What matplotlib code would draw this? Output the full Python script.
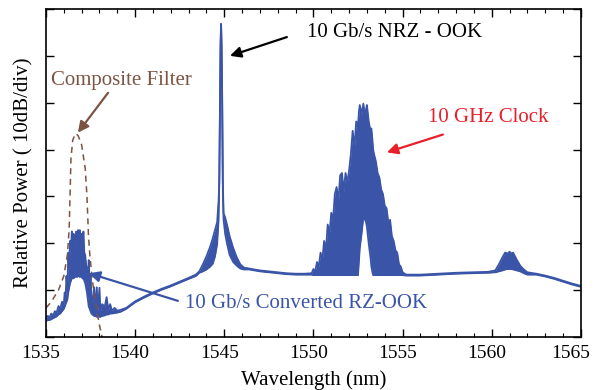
import numpy as np
import matplotlib
matplotlib.use('Agg')
import matplotlib.pyplot as plt
from matplotlib.transforms import ScaledTranslation

plt.rcParams['font.family'] = ['Liberation Serif', 'DejaVu Serif']

# measured spectrum: wavelength (nm), top and bottom of the trace (divisions of 10 dB)
wl = [1535.0, 1535.1, 1535.2, 1535.3, 1535.4, 1535.5, 1535.6, 1535.7, 1535.8, 1535.9,
      1536.0, 1536.05, 1536.1, 1536.15, 1536.2, 1536.25, 1536.3, 1536.35, 1536.4, 1536.45,
      1536.5, 1536.55, 1536.6, 1536.65, 1536.7, 1536.75, 1536.8, 1536.85, 1536.9, 1536.95,
      1537.0, 1537.05, 1537.1, 1537.15, 1537.2, 1537.25, 1537.3, 1537.35, 1537.4, 1537.45,
      1537.5, 1537.55, 1537.6, 1537.7, 1537.75, 1537.85, 1537.9, 1538.0, 1538.05, 1538.15,
      1538.3, 1538.4, 1538.5, 1538.6, 1538.7, 1538.85, 1539.0, 1539.2,
      1539.5, 1540.0, 1540.5, 1541.0, 1541.5, 1542.0, 1542.5, 1543.0, 1543.4,
      1543.6, 1543.8, 1544.0, 1544.2, 1544.35, 1544.48, 1544.6, 1544.68, 1544.72, 1544.74,
      1544.76, 1544.79, 1544.82, 1544.85, 1544.88, 1544.9, 1544.92, 1544.96, 1545.05, 1545.15,
      1545.3, 1545.5, 1545.7, 1545.9, 1546.1, 1546.4,
      1547.0, 1547.5, 1548.0, 1548.5, 1549.0, 1549.5, 1549.9,
      1550.0, 1550.1, 1550.2, 1550.3, 1550.4, 1550.5, 1550.6, 1550.7, 1550.8, 1550.9,
      1551.0, 1551.1, 1551.2, 1551.3, 1551.4, 1551.5, 1551.6, 1551.7, 1551.8, 1551.9,
      1552.0, 1552.1, 1552.2, 1552.3, 1552.4, 1552.5, 1552.55, 1552.6, 1552.7, 1552.8,
      1552.9, 1552.95, 1553.0, 1553.1, 1553.2, 1553.25, 1553.3, 1553.35, 1553.4, 1553.5,
      1553.6, 1553.7, 1553.8, 1553.9, 1554.0, 1554.1, 1554.2, 1554.3, 1554.4, 1554.5,
      1554.6, 1554.7, 1554.8, 1554.9, 1555.0, 1555.2,
      1555.5, 1556.0, 1557.0, 1558.0, 1559.0, 1559.8, 1560.2,
      1560.4, 1560.6, 1560.75, 1560.9, 1561.0, 1561.1, 1561.2, 1561.4, 1561.6, 1561.8, 1562.0,
      1562.5, 1563.0, 1563.5, 1564.0, 1564.5, 1565.0]

pw_top = [0.40, 0.45, 0.42, 0.50, 0.46, 0.55, 0.52, 0.66, 0.60, 0.75,
          0.70, 0.95, 0.85, 1.30, 1.00, 1.80, 1.50, 2.05, 1.85, 2.25,
          1.95, 2.20, 1.90, 2.10, 2.25, 1.95, 2.28, 2.05, 2.28, 2.00,
          2.20, 1.90, 2.25, 1.80, 1.75, 1.55, 1.45, 1.20, 1.64, 0.90,
          1.35, 0.80, 0.70, 1.06, 0.60, 1.06, 0.55, 1.05, 0.55, 0.70,
          0.65, 0.85, 0.58, 0.70, 0.56, 0.62, 0.56, 0.58,
          0.62, 0.76, 0.86, 0.95, 1.03, 1.10, 1.18, 1.26, 1.33,
          1.40, 1.55, 1.72, 1.92, 2.10, 2.28, 2.45, 2.90, 3.30, 4.20,
          5.20, 6.20, 6.68, 6.20, 5.20, 4.20, 3.30, 2.64, 2.55, 2.40,
          2.15, 1.90, 1.70, 1.55, 1.48, 1.46,
          1.42, 1.40, 1.38, 1.36, 1.35, 1.35, 1.36,
          1.45, 1.40, 1.60, 1.50, 1.80, 1.65, 2.05, 1.85, 2.40, 2.20,
          2.65, 2.50, 3.05, 3.20, 2.90, 3.45, 3.50, 3.10, 3.50, 3.30,
          3.55, 3.90, 4.40, 4.05, 4.60, 4.50, 4.80, 4.95, 4.75, 4.98,
          4.70, 4.85, 4.95, 4.60, 4.40, 4.45, 4.25, 4.00, 3.90, 3.75,
          3.50, 3.40, 3.15, 3.05, 2.80, 2.75, 2.45, 2.50, 2.15, 2.05,
          1.85, 1.80, 1.55, 1.50, 1.38, 1.33,
          1.33, 1.33, 1.35, 1.37, 1.38, 1.39, 1.42,
          1.55, 1.70, 1.80, 1.78, 1.82, 1.78, 1.80, 1.65, 1.52, 1.44, 1.38,
          1.35, 1.31, 1.26, 1.20, 1.14, 1.09]

pw_bottom = [0.34, 0.36, 0.36, 0.38, 0.40, 0.42, 0.44, 0.48, 0.50, 0.55,
             0.60, 0.65, 0.70, 0.75, 0.80, 0.95, 1.05, 1.15, 1.20, 1.25,
             1.30, 1.25, 1.30, 1.28, 1.30, 1.28, 1.30, 1.30, 1.28, 1.30,
             1.28, 1.25, 1.25, 1.20, 1.15, 1.05, 0.95, 0.80, 0.65, 0.60,
             0.55, 0.50, 0.48, 0.45, 0.45, 0.43, 0.43, 0.43, 0.43, 0.45,
             0.46, 0.48, 0.48, 0.50, 0.50, 0.51, 0.52, 0.54,
             0.60, 0.74, 0.84, 0.93, 1.01, 1.08, 1.16, 1.24, 1.30,
             1.37, 1.40, 1.44, 1.50, 1.56, 1.72, 1.98, 2.50, 3.30, 4.20,
             5.20, 6.20, 6.68, 6.20, 5.20, 4.20, 3.10, 2.50, 2.20, 2.00,
             1.75, 1.60, 1.52, 1.46, 1.44, 1.44,
             1.40, 1.38, 1.36, 1.34, 1.33, 1.33, 1.33,
             1.32, 1.32, 1.32, 1.32, 1.32, 1.32, 1.32, 1.32, 1.32, 1.32,
             1.32, 1.32, 1.32, 1.32, 1.32, 1.32, 1.32, 1.32, 1.32, 1.32,
             1.32, 1.32, 1.32, 1.32, 1.32, 1.32, 1.60, 1.90, 2.20, 2.55,
             2.50, 2.45, 2.35, 2.00, 1.70, 1.50, 1.40, 1.32, 1.32, 1.32,
             1.32, 1.32, 1.32, 1.32, 1.32, 1.32, 1.32, 1.32, 1.32, 1.32,
             1.32, 1.32, 1.32, 1.32, 1.32, 1.31,
             1.31, 1.31, 1.33, 1.35, 1.36, 1.37, 1.38,
             1.40, 1.42, 1.44, 1.45, 1.45, 1.45, 1.44, 1.42, 1.40, 1.36, 1.33,
             1.33, 1.29, 1.24, 1.18, 1.12, 1.07]

# composite filter transfer (dashed)
filt_wl = [1535.0, 1535.3, 1535.7, 1536.0, 1536.2, 1536.3, 1536.35, 1536.4, 1536.5, 1536.65,
           1536.8, 1537.0, 1537.2, 1537.3, 1537.38, 1537.45, 1537.6, 1537.8, 1538.0, 1538.15, 1538.3]
filt_pw = [0.62, 0.75, 1.00, 1.30, 1.75, 2.30, 3.00, 3.80, 4.20, 4.34,
           4.30, 4.10, 3.60, 3.00, 2.20, 1.80, 1.20, 0.70, 0.25, 0.00, -0.30]

xticks = [1535, 1540, 1545, 1550, 1555, 1560, 1565]

blue = '#3a55a8'
brown = '#7d5444'
red = '#e8202a'

fig = plt.figure(figsize=(5.97, 3.90), dpi=100)
ax = fig.add_axes([0.077, 0.136, 0.896, 0.841])

ax.fill_between(wl, pw_bottom, pw_top, color=blue, lw=0)
ax.plot(wl, pw_top, color=blue, lw=1.3)
ax.plot(wl, pw_bottom, color=blue, lw=1.3)
ax.plot(filt_wl, filt_pw, color=brown, lw=1.1, ls=(0, (4, 3)))

ax.set_xlim(1535, 1565)
ax.set_ylim(0, 7)
ax.set_xticks(xticks)
ax.set_xticks(np.arange(1535, 1566, 1), minor=True)
ax.set_yticks(range(0, 8))
ax.set_yticklabels([])
ax.tick_params(direction='in', top=True, right=True, labelsize=14, length=6, width=1, pad=6)
ax.tick_params(which='minor', direction='in', top=True, length=3, width=0.8)
for s in ax.spines.values():
    s.set_linewidth(1.2)

# tick labels sit a bit left of their ticks in the original, the last one more so
labels = ax.get_xticklabels()
for i, lbl in enumerate(labels):
    dx = -10 if i == len(labels) - 1 else -5
    lbl.set_transform(lbl.get_transform() + ScaledTranslation(dx / 100, 0, fig.dpi_scale_trans))

ax.set_xlabel('Wavelength (nm)', fontsize=15, labelpad=6)
ax.set_ylabel('Relative Power ( 10dB/div)', fontsize=15, labelpad=3)

arr = dict(arrowstyle='-|>', lw=1.6, mutation_scale=16, shrinkA=0, shrinkB=0)
ax.annotate('', xy=(1536.79, 4.36), xytext=(1538.48, 5.21),
            arrowprops=dict(arr, color=brown))
ax.text(1539.26, 5.47, 'Composite Filter', color=brown, fontsize=15, ha='center', va='center')

ax.annotate('', xy=(1545.32, 6.0), xytext=(1548.51, 6.40),
            arrowprops=dict(arr, color='black'))
ax.text(1549.64, 6.49, '10 Gb/s NRZ - OOK', color='black', fontsize=15, ha='left', va='center')

ax.annotate('', xy=(1554.12, 3.94), xytext=(1557.26, 4.32),
            arrowprops=dict(arr, color=red))
ax.text(1556.42, 4.68, '10 GHz Clock', color=red, fontsize=15, ha='left', va='center')

ax.annotate('', xy=(1537.41, 1.36), xytext=(1542.4, 0.77),
            arrowprops=dict(arr, color=blue))
ax.text(1542.79, 0.72, '10 Gb/s Converted RZ-OOK', color=blue, fontsize=15, ha='left', va='center')

fig.savefig('out.png', dpi=100)
